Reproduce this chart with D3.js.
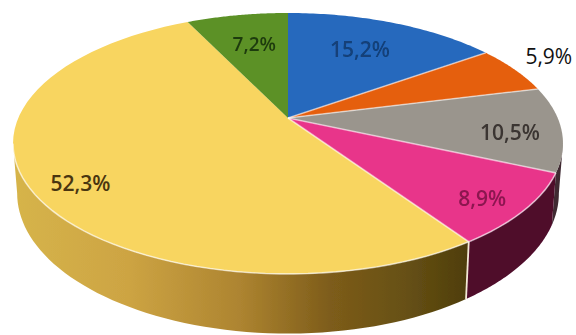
<!DOCTYPE html>
<html>
<head>
<meta charset="utf-8">
<script src="https://cdn.jsdelivr.net/npm/d3@7/dist/d3.min.js"></script>
<style>
  html, body { margin: 0; padding: 0; background: #fff; }
  svg { display: block; }
  text { font-family: "Open Sans", sans-serif; text-anchor: middle; dominant-baseline: central; }
</style>
</head>
<body>
<svg id="chart" width="576" height="335"></svg>
<script>
// Slice shares, clockwise from twelve o'clock
const shares = [15.2, 5.9, 10.5, 8.9, 52.3, 7.2];
const shareLabels = ["15,2%", "5,9%", "10,5%", "8,9%", "52,3%", "7,2%"];
const faceColors = ["#2769bd", "#e55f10", "#9a958d", "#e8368a", "#f8d560", "#5b9128"];
const wallColors = ["#1d4a80", "#8a3a08", "#3f2a33", "#4f0a2c", "url(#goldWall)", "#34541a"];
const labelColors = ["#123f78", "#111111", "#3a3431", "#8c1550", "#4a3510", "#1f3a0c"];

// Label placement in pie terms: radius fraction and angular nudge in degrees
const labelRadius = [0.685, 1.2, 0.813, 0.855, 0.843, 0.682];
const labelNudge = [-1.5, -2.3, 2.8, 1.7, -3.9, 1];

// Perspective of the tilted disc
const tilt = 0.195;
const depth = 48;
const bottomShrink = 0.985;
const x = d3.scaleLinear().domain([-1, 1]).range([288 - 269.7, 288 + 269.7]);
const y = d3.scaleLinear().domain([-1, 1]).range([118 + 125.5, 118 - 125.5]);

function project(angle, r = 1, drop = 0) {
  const u = Math.sin(angle) * r, v = Math.cos(angle) * r;
  const s = 1 / (1 + tilt * v);
  const px = x(u * s), py = y(v * s);
  return drop ? [x(0) + (px - x(0)) * bottomShrink, py + drop * s] : [px, py];
}

const svg = d3.select("#chart");
const defs = svg.append("defs");

const soft = defs.append("filter").attr("id", "soft")
  .attr("x", "-5%").attr("y", "-5%").attr("width", "110%").attr("height", "110%");
soft.append("feGaussianBlur").attr("stdDeviation", 0.7);
const softText = defs.append("filter").attr("id", "softText")
  .attr("x", "-10%").attr("y", "-10%").attr("width", "120%").attr("height", "120%");
softText.append("feGaussianBlur").attr("stdDeviation", 0.7);

const gold = defs.append("linearGradient").attr("id", "goldWall")
  .attr("gradientUnits", "userSpaceOnUse")
  .attr("x1", 15).attr("x2", 466).attr("y1", 0).attr("y2", 0);
[[0, "#d6b44a"], [0.25, "#cda443"], [0.5, "#ad8430"], [0.7, "#7d5c1a"], [0.87, "#665014"], [1, "#4f3e0b"]]
  .forEach(([o, c]) => gold.append("stop").attr("offset", o).attr("stop-color", c));

const pie = d3.pie().sort(null)(shares);
const line = d3.line();
const frontStart = Math.PI - Math.acos(tilt);
const frontEnd = Math.PI + Math.acos(tilt);
const arcSamples = (a0, a1) => d3.range(0, 61).map(i => a0 + (a1 - a0) * i / 60);

const disc = svg.append("g").attr("filter", "url(#soft)");

// Side wall: only the arcs on the near half of the rim are visible
pie.forEach((d, i) => {
  const a0 = Math.max(d.startAngle, frontStart);
  const a1 = Math.min(d.endAngle, frontEnd);
  if (a1 <= a0) return;
  const angles = arcSamples(a0, a1);
  const outline = angles.map(a => project(a)).concat(angles.slice().reverse().map(a => project(a, 1, depth)));
  disc.append("path").attr("d", line(outline) + "Z").attr("fill", wallColors[i]);
});

// White seam where the two large walls meet
const seamAngle = pie[3].endAngle;
disc.append("path")
  .attr("d", line([project(seamAngle), project(seamAngle, 1, depth)]))
  .attr("stroke", "#f3e9d6").attr("stroke-width", 1.8).attr("fill", "none");

// Top face
pie.forEach((d, i) => {
  const outline = [project(0, 0)].concat(arcSamples(d.startAngle, d.endAngle).map(a => project(a)));
  disc.append("path").attr("d", line(outline) + "Z").attr("fill", faceColors[i]);
});

// Pale separators between coloured slices and along the near rim
pie.slice(0, 4).forEach(d => {
  disc.append("path")
    .attr("d", line([project(0, 0), project(d.endAngle)]))
    .attr("stroke", "#fff").attr("stroke-opacity", 0.55).attr("stroke-width", 1.6).attr("fill", "none");
});
disc.append("path")
  .attr("d", line(arcSamples(pie[2].endAngle, frontEnd).map(a => project(a))))
  .attr("stroke", "#fff").attr("stroke-opacity", 0.6).attr("stroke-width", 1.6).attr("fill", "none");

// Percentage labels
pie.forEach((d, i) => {
  const mid = (d.startAngle + d.endAngle) / 2 + labelNudge[i] * Math.PI / 180;
  const [lx, ly] = project(mid, labelRadius[i]);
  const crisp = i === 1 || i === 4;
  svg.append("text")
    .attr("x", lx).attr("y", ly)
    .attr("font-size", i === 5 ? 19 : 21)
    .attr("font-weight", i === 1 ? 400 : 600)
    .attr("fill", labelColors[i])
    .attr("filter", crisp ? null : "url(#softText)")
    .text(shareLabels[i]);
});
</script>
</body>
</html>
